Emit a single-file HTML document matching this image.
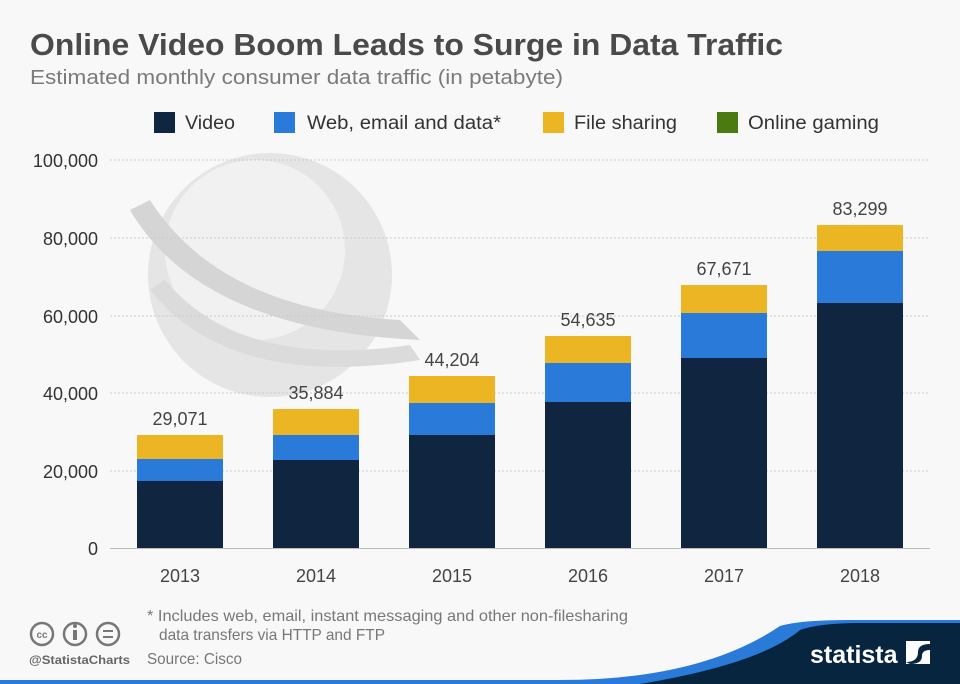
<!DOCTYPE html>
<html><head><meta charset="utf-8"><style>
body{margin:0;background:#f8f8f8;}
svg{display:block;font-family:"Liberation Sans","DejaVu Sans",sans-serif;}
</style></head><body>
<svg width="960" height="684" viewBox="0 0 960 684">
<rect width="960" height="684" fill="#f8f8f8"/>
<text x="30" y="55" font-size="31" font-weight="bold" fill="#4a4a4a" textLength="753" lengthAdjust="spacingAndGlyphs">Online Video Boom Leads to Surge in Data Traffic</text>
<text x="30" y="84" font-size="20" fill="#7a7a7a" textLength="533" lengthAdjust="spacingAndGlyphs">Estimated monthly consumer data traffic (in petabyte)</text>
<g font-size="19" fill="#333">
<rect x="154" y="112" width="21" height="21" fill="#0f2540"/><text x="185" y="129" textLength="50" lengthAdjust="spacingAndGlyphs">Video</text>
<rect x="274" y="112" width="21" height="21" fill="#2a7ad9"/><text x="307" y="129" textLength="194" lengthAdjust="spacingAndGlyphs">Web, email and data*</text>
<rect x="543" y="112" width="21" height="21" fill="#ebb523"/><text x="574" y="129" textLength="103" lengthAdjust="spacingAndGlyphs">File sharing</text>
<rect x="717" y="112" width="21" height="21" fill="#4b7a10"/><text x="748" y="129" textLength="131" lengthAdjust="spacingAndGlyphs">Online gaming</text>
</g>
<!-- globe decoration -->
<g opacity="0.3">
<circle cx="270" cy="275" r="122" fill="#bbb"/>
<circle cx="255" cy="250" r="90" fill="#e4e4e4"/>
<path d="M130 210 Q200 330 420 340 L400 320 Q220 310 150 200Z" fill="#888"/>
<path d="M150 290 Q230 390 420 360 L410 345 Q240 370 165 280Z" fill="#999"/>
</g>
<g stroke="#ccc" stroke-dasharray="2,2" stroke-width="1">
<line x1="110" y1="160" x2="930" y2="160"/>
<line x1="110" y1="238" x2="930" y2="238"/>
<line x1="110" y1="316" x2="930" y2="316"/>
<line x1="110" y1="393" x2="930" y2="393"/>
<line x1="110" y1="471" x2="930" y2="471"/>
</g>
<line x1="110" y1="548.5" x2="930" y2="548.5" stroke="#bbb"/>
<g font-size="18" fill="#333" text-anchor="end">
<text x="98" y="167">100,000</text><text x="98" y="245">80,000</text><text x="98" y="323">60,000</text>
<text x="98" y="400">40,000</text><text x="98" y="478">20,000</text><text x="98" y="555">0</text>
</g>
<g>
<rect x="137" y="435" width="86" height="24" fill="#ebb523"/><rect x="137" y="459" width="86" height="22" fill="#2a7ad9"/><rect x="137" y="481" width="86" height="67" fill="#0f2540"/>
<rect x="273" y="409" width="86" height="26" fill="#ebb523"/><rect x="273" y="435" width="86" height="25" fill="#2a7ad9"/><rect x="273" y="460" width="86" height="88" fill="#0f2540"/>
<rect x="409" y="376" width="86" height="27" fill="#ebb523"/><rect x="409" y="403" width="86" height="32" fill="#2a7ad9"/><rect x="409" y="435" width="86" height="113" fill="#0f2540"/>
<rect x="545" y="336" width="86" height="27" fill="#ebb523"/><rect x="545" y="363" width="86" height="39" fill="#2a7ad9"/><rect x="545" y="402" width="86" height="146" fill="#0f2540"/>
<rect x="681" y="285" width="86" height="28" fill="#ebb523"/><rect x="681" y="313" width="86" height="45" fill="#2a7ad9"/><rect x="681" y="358" width="86" height="190" fill="#0f2540"/>
<rect x="817" y="225" width="86" height="26" fill="#ebb523"/><rect x="817" y="251" width="86" height="52" fill="#2a7ad9"/><rect x="817" y="303" width="86" height="245" fill="#0f2540"/>
</g>
<g font-size="18" fill="#444" text-anchor="middle">
<text x="180" y="425">29,071</text><text x="316" y="399">35,884</text><text x="452" y="366">44,204</text>
<text x="588" y="326">54,635</text><text x="724" y="275">67,671</text><text x="860" y="215">83,299</text>
<text x="180" y="582">2013</text><text x="316" y="582">2014</text><text x="452" y="582">2015</text>
<text x="588" y="582">2016</text><text x="724" y="582">2017</text><text x="860" y="582">2018</text>
</g>
<g font-size="16" fill="#777">
<text x="147" y="621" textLength="481" lengthAdjust="spacingAndGlyphs">* Includes web, email, instant messaging and other non-filesharing</text>
<text x="159" y="640" textLength="226" lengthAdjust="spacingAndGlyphs">data transfers via HTTP and FTP</text>
<text x="147" y="664" textLength="95" lengthAdjust="spacingAndGlyphs">Source: Cisco</text>
</g>
<g stroke="#777" stroke-width="2.5" fill="none">
<circle cx="42" cy="634" r="11"/><circle cx="75" cy="634" r="11"/><circle cx="108" cy="634" r="11"/>
</g>
<text x="42" y="638" font-size="10" font-weight="bold" fill="#777" text-anchor="middle">cc</text>
<rect x="73" y="630" width="4" height="10" fill="#777"/><circle cx="75" cy="626" r="2" fill="#777"/>
<rect x="103" y="630" width="10" height="2" fill="#777"/><rect x="103" y="636" width="10" height="2" fill="#777"/>
<text x="29" y="664" font-size="12" font-weight="bold" fill="#666" textLength="101" lengthAdjust="spacingAndGlyphs">@StatistaCharts</text>
<path d="M0 680 L560 680 Q700 680 780 626 Q800 620 850 620 L960 620 L960 684 L0 684Z" fill="#2a7ad9"/>
<path d="M640 684 Q760 664 800 630 Q820 623 860 623 L960 623 L960 684Z" fill="#08253f"/>
<text x="810" y="663" font-size="25" font-weight="bold" fill="#fff">statista</text>
<rect x="906" y="641" width="24" height="23" fill="#fff"/>
<path d="M906 662 Q918 662 918 652 Q918 644 930 644 L930 650 Q922 650 922 656 Q922 664 910 664Z" fill="#08253f"/>
</svg>
</body></html>
